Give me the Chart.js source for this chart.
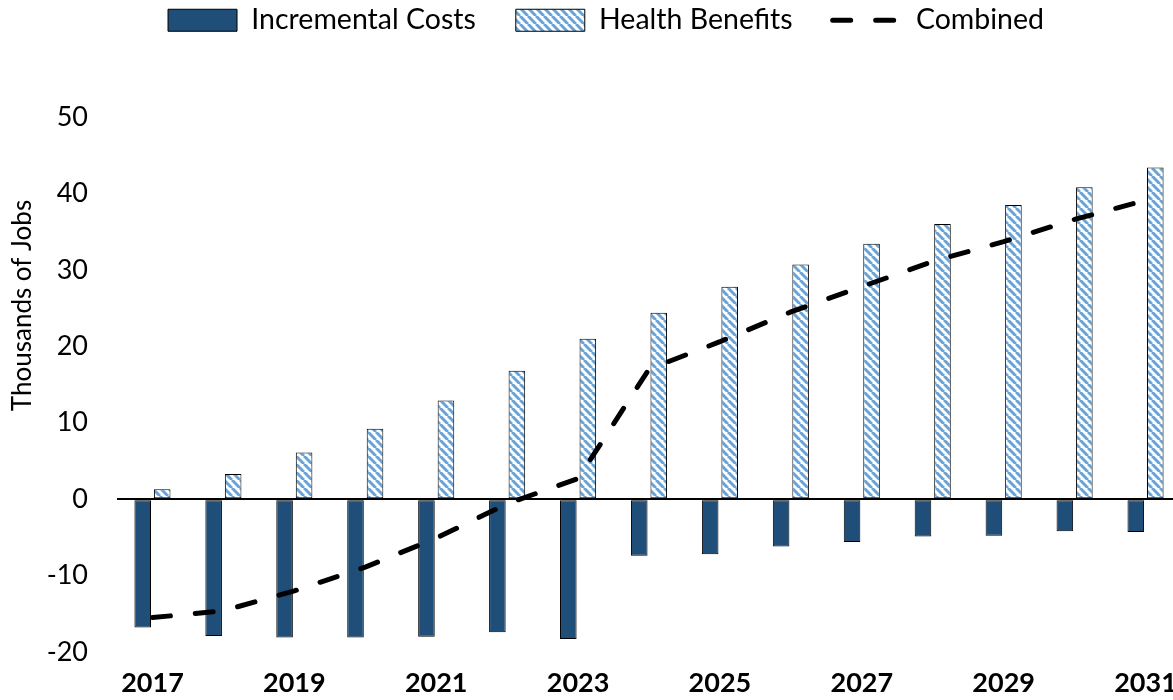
<!DOCTYPE html>
<html>
<head>
<meta charset="utf-8">
<script src="https://cdn.jsdelivr.net/npm/chart.js@4"></script>
<style>
  html, body { margin: 0; padding: 0; background: #fff; overflow: hidden; }
  #wrap { width: 1190px; height: 700px; }
</style>
</head>
<body>
<div id="wrap"><canvas id="myChart" width="1190" height="700"></canvas></div>
<script>
(() => {
    'use strict'

    // Data
    const years = ['2017', '2018', '2019', '2020', '2021', '2022', '2023', '2024',
        '2025', '2026', '2027', '2028', '2029', '2030', '2031']
    const incrementalCosts = [-16.8, -17.9, -18.1, -18.1, -18.0, -17.4, -18.3, -7.4,
        -7.2, -6.2, -5.6, -4.9, -4.8, -4.2, -4.3]
    const healthBenefits = [1.3, 3.3, 6.1, 9.2, 12.9, 16.8, 21.0, 24.4,
        27.8, 30.7, 33.4, 36.0, 38.5, 40.8, 43.4]
    const combined = [-15.5, -14.6, -12.0, -8.9, -5.1, -0.6, 2.7, 17.0,
        20.6, 24.5, 27.8, 31.1, 33.7, 36.6, 39.1]
    const yTickValues = [-20, -10, 0, 10, 20, 30, 40, 50]

    const FONT = 'Lato'
    const LINE_DASH = [18, 25]

    // diagonal hatch for the health benefit bars
    const tile = document.createElement('canvas')
    tile.width = 8
    tile.height = 8
    const t = tile.getContext('2d')
    t.fillStyle = '#ffffff'
    t.fillRect(0, 0, 8, 8)
    t.strokeStyle = '#6aa3d8'
    t.lineWidth = 3
    for (const k of [-8, 0, 8]) {
        t.beginPath()
        t.moveTo(k, 0)
        t.lineTo(k + 8, 8)
        t.stroke()
    }
    const ctx = document.getElementById('myChart')
    const hatch = ctx.getContext('2d').createPattern(tile, 'repeat')

    // extra room under the legend
    const legendGap = {
        id: 'legendGap',
        beforeInit(chart) {
            const fit = chart.legend.fit
            chart.legend.fit = function () {
                fit.call(this)
                this.height = 151
            }
        }
    }

    // axis title sits above the middle of the plot, as in the source
    const yTitle = {
        id: 'yTitle',
        afterDraw(chart) {
            const c = chart.ctx
            const area = chart.chartArea
            c.save()
            c.translate(23, (area.top + area.bottom) / 2 - 79)
            c.rotate(-Math.PI / 2)
            c.font = '26px ' + FONT
            c.fillStyle = '#000'
            c.textAlign = 'center'
            c.textBaseline = 'middle'
            c.fillText('Thousands of Jobs', 0, 0)
            c.restore()
        }
    }

    // eslint-disable-next-line no-unused-vars
    const myChart = new Chart(ctx, {
        type: 'bar',
        data: {
            labels: years,
            datasets: [{
                label: 'Incremental Costs',
                data: incrementalCosts,
                backgroundColor: '#1f4e79',
                borderColor: '#000',
                borderWidth: 1,
                borderSkipped: false,
                order: 1,
                pointStyle: 'rect'
            }, {
                label: 'Health Benefits',
                data: healthBenefits,
                backgroundColor: hatch,
                borderColor: '#000',
                borderWidth: 1,
                borderSkipped: false,
                order: 2,
                pointStyle: 'rect'
            }, {
                type: 'line',
                label: 'Combined',
                data: combined,
                borderColor: '#000',
                backgroundColor: '#000',
                borderWidth: 5,
                borderDash: LINE_DASH,
                borderCapStyle: 'round',
                pointRadius: 0,
                tension: 0,
                order: 0,
                pointStyle: 'line'
            }]
        },
        options: {
            responsive: false,
            animation: false,
            devicePixelRatio: 1,
            categoryPercentage: 0.55,
            barPercentage: 0.85,
            layout: {
                padding: { top: -34, right: 9, left: 31, bottom: 0 }
            },
            plugins: {
                legend: {
                    position: 'top',
                    labels: {
                        usePointStyle: true,
                        pointStyleWidth: 69,
                        boxHeight: 22,
                        padding: 40,
                        color: '#000',
                        font: { family: FONT, size: 28.5 },
                        sort: (a, b) => a.datasetIndex - b.datasetIndex,
                        generateLabels: (chart) => {
                            const items = Chart.defaults.plugins.legend.labels.generateLabels(chart)
                            items.forEach((item) => {
                                if (item.pointStyle === 'line') {
                                    item.lineDash = LINE_DASH
                                    item.lineCap = 'round'
                                    item.lineWidth = 5
                                    item.strokeStyle = '#000'
                                }
                            })
                            return items
                        }
                    }
                },
                tooltip: { enabled: false }
            },
            scales: {
                x: {
                    grid: { display: false },
                    border: { display: false },
                    afterFit: (scale) => { scale.height = 48 },
                    ticks: {
                        autoSkip: false,
                        maxRotation: 0,
                        padding: 7,
                        color: '#000',
                        font: { family: FONT, size: 27, weight: 'bold' },
                        callback: (v, i) => (i % 2 === 0 ? years[i] : '')
                    }
                },
                y: {
                    min: yTickValues[0],
                    max: yTickValues[yTickValues.length - 1],
                    afterFit: (scale) => { scale.width = 86 },
                    border: { display: false },
                    grid: {
                        drawTicks: false,
                        lineWidth: 2,
                        color: (c) => (c.tick && c.tick.value === 0 ? '#000' : 'rgba(0,0,0,0)')
                    },
                    ticks: {
                        stepSize: 10,
                        padding: 29,
                        color: '#000',
                        font: { family: FONT, size: 27 }
                    }
                }
            }
        },
        plugins: [legendGap, yTitle]
    })
})()
</script>
</body>
</html>
